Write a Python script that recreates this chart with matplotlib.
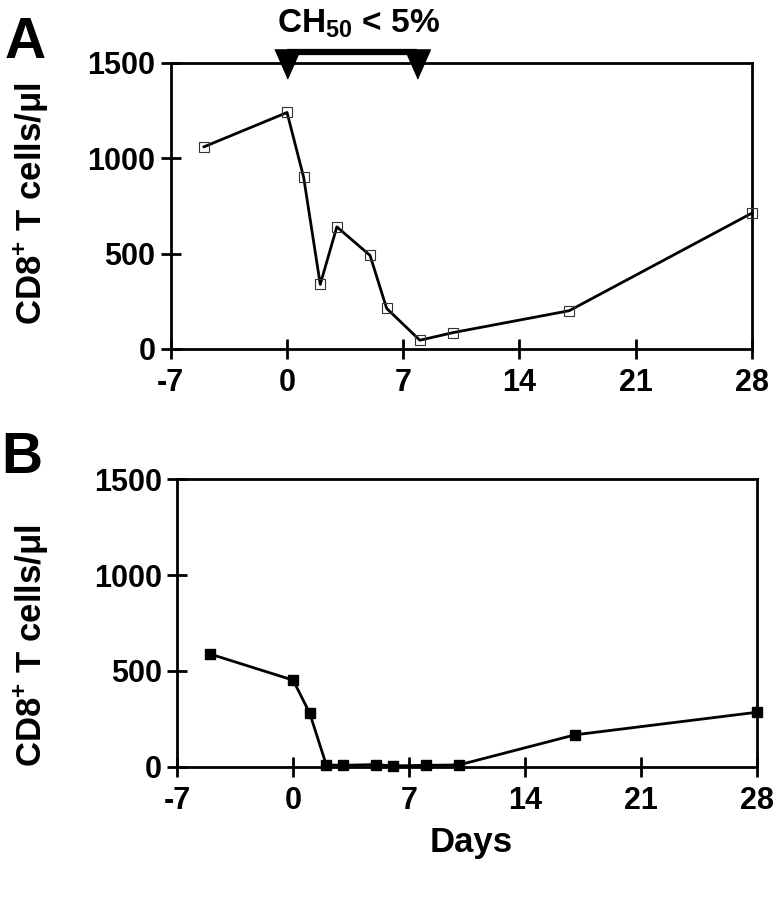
import numpy as np
import matplotlib
matplotlib.use("Agg")
import matplotlib.pyplot as plt

plt.rcParams["font.family"] = ["Liberation Sans", "DejaVu Sans"]
plt.rcParams["font.weight"] = "bold"
plt.rcParams["mathtext.fontset"] = "custom"
plt.rcParams["mathtext.rm"] = "Liberation Sans:bold"
plt.rcParams["mathtext.bf"] = "Liberation Sans:bold"

# Datos
days_a  = [-5, 0, 1, 2, 3, 5, 6, 8, 10, 17, 28]
cd8_a   = [1060, 1240, 900, 338, 640, 490, 212, 45, 85, 200, 712]

days_b  = [-5, 0, 1, 2, 3, 5, 6, 8, 10, 17, 28]
cd8_b   = [588, 452, 280, 10, 8, 12, 5, 8, 10, 167, 285]

ch50_days = [0, 7.8]          # periodo CH50 < 5%
x_ticks   = [-7, 0, 7, 14, 21, 28]
y_ticks   = [0, 500, 1000, 1500]

fig = plt.figure(figsize=(7.8, 8.99), dpi=100)
ax_a = fig.add_axes([0.219, 0.612, 0.745, 0.318])
ax_b = fig.add_axes([0.227, 0.147, 0.744, 0.320])

def style_axis(ax):
    ax.set_xlim(-7, 28)
    ax.set_ylim(0, 1500)
    ax.set_xticks(x_ticks)
    ax.set_yticks(y_ticks)
    ax.set_xticklabels([str(t) for t in x_ticks], fontsize=22, fontweight="bold")
    ax.set_yticklabels([str(t) for t in y_ticks], fontsize=22, fontweight="bold")
    ax.tick_params(axis="both", direction="inout", length=14, width=2)
    ax.tick_params(axis="x", pad=7)
    ax.tick_params(axis="y", pad=4)
    for s in ax.spines.values():
        s.set_linewidth(2)

ax_a.plot(days_a, cd8_a, color="black", linewidth=2, marker="s", markersize=7.5,
          markerfacecolor="none", markeredgecolor="#333333", markeredgewidth=0.8,
          clip_on=False, zorder=3)
style_axis(ax_a)

ax_b.plot(days_b, cd8_b, color="black", linewidth=2, marker="s", markersize=6.5,
          markerfacecolor="black", markeredgecolor="black", clip_on=False, zorder=3)
style_axis(ax_b)

# Barra CH50 con triángulos
tri = [(-0.88, 1), (0.88, 1), (0, -1)]
ax_a.plot(ch50_days, [1558, 1558], color="black", linewidth=4.5,
          solid_capstyle="butt", clip_on=False, zorder=4)
ax_a.plot(ch50_days, [1497, 1497], linestyle="none", marker=tri, markersize=21,
          color="black", clip_on=False, zorder=5)

fig.text(0.46, 0.9644, r"CH$_{\mathbf{50}}$ < 5%", fontsize=24, fontweight="bold",
         ha="center", va="baseline")
fig.text(0.006, 0.9355, "A", fontsize=41, fontweight="bold", ha="left", va="baseline")
fig.text(0.002, 0.474, "B", fontsize=41, fontweight="bold", ha="left", va="baseline")

ylab = "CD8$^{\\mathbf{+}}$ T cells/μl"
fig.text(0.040, 1 - 204 / 899, ylab, rotation=90, fontsize=25, fontweight="bold",
         ha="center", va="center")
fig.text(0.040, 1 - 646 / 899, ylab, rotation=90, fontsize=25, fontweight="bold",
         ha="center", va="center")
fig.text(0.604, 0.0525, "Days", fontsize=25, fontweight="bold", ha="center", va="baseline")

plt.savefig("out.png", dpi=100)
plt.close()
